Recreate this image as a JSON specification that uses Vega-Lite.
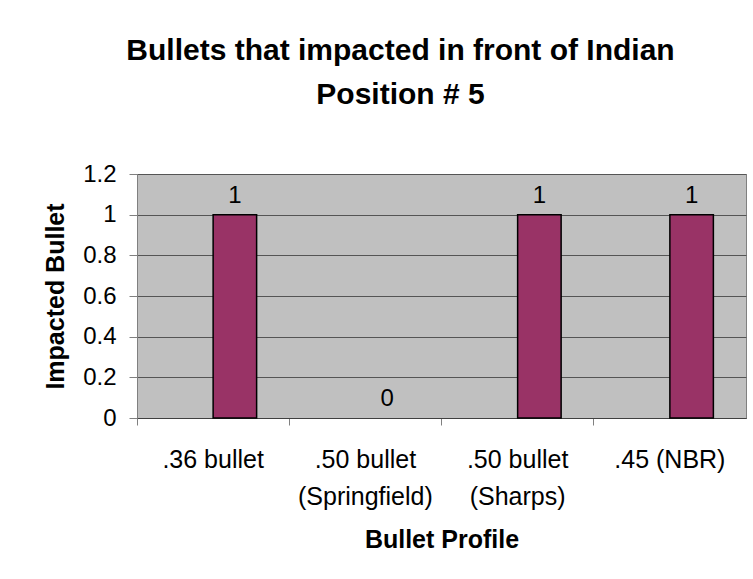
{
  "$schema": "https://vega.github.io/schema/vega-lite/v6.json",
  "autosize": {"type": "none"},
  "width": 609,
  "height": 244,
  "padding": {"left": 137, "top": 174, "right": 7, "bottom": 161},
  "background": "white",
  "title": {
    "text": ["Bullets that impacted in front of Indian", "Position # 5"],
    "font": "Liberation Sans",
    "fontSize": 30,
    "fontWeight": "bold",
    "color": "black",
    "lineHeight": 44,
    "anchor": "middle",
    "frame": "group",
    "dx": -41,
    "offset": 52
  },
  "data": {
    "values": [
      {"profile": ".36 bullet", "series": "Series 2", "impacted": 1},
      {"profile": ".50 bullet (Springfield)", "series": "Series 2", "impacted": 0},
      {"profile": ".50 bullet (Sharps)", "series": "Series 2", "impacted": 1},
      {"profile": ".45 (NBR)", "series": "Series 2", "impacted": 1}
    ]
  },
  "encoding": {
    "x": {
      "field": "profile",
      "type": "nominal",
      "scale": {
        "domain": [".36 bullet", ".50 bullet (Springfield)", ".50 bullet (Sharps)", ".45 (NBR)"],
        "paddingInner": 0,
        "paddingOuter": 0
      },
      "axis": {
        "title": "Bullet Profile",
        "bandPosition": 0,
        "labelAngle": 0,
        "labelFont": "Liberation Sans",
        "labelFontSize": 25,
        "labelColor": "black",
        "labelLineHeight": 37,
        "labelPadding": 22,
        "labelExpr": "indexof(datum.label, 'bullet (') >= 0 ? split(replace(datum.label, 'bullet (', 'bullet|('), '|') : datum.label",
        "ticks": true,
        "tickSize": 7,
        "tickColor": "#808080",
        "domainColor": "#404040",
        "titleFont": "Liberation Sans",
        "titleFontSize": 25,
        "titleFontWeight": "bold",
        "titleColor": "black",
        "titlePadding": 18
      }
    },
    "xOffset": {
      "field": "series",
      "type": "nominal",
      "scale": {"domain": ["Series 1", "Series 2"], "paddingInner": 0, "paddingOuter": 0.75}
    },
    "y": {
      "field": "impacted",
      "type": "quantitative",
      "scale": {"domain": [0, 1.2], "nice": false},
      "axis": {
        "title": "Impacted Bullet",
        "values": [0, 0.2, 0.4, 0.6, 0.8, 1, 1.2],
        "format": ".1~f",
        "labelFont": "Liberation Sans",
        "labelFontSize": 24,
        "labelColor": "black",
        "labelPadding": 13,
        "tickSize": 8,
        "tickColor": "#808080",
        "domainColor": "#808080",
        "grid": true,
        "gridColor": "#555555",
        "gridWidth": 1,
        "titleFont": "Liberation Sans",
        "titleFontSize": 25,
        "titleFontWeight": "bold",
        "titleColor": "black",
        "titlePadding": 14
      }
    }
  },
  "layer": [
    {
      "transform": [{"filter": "datum.impacted > 0"}],
      "mark": {"type": "bar", "color": "#993366", "stroke": "black", "strokeWidth": 1.5}
    },
    {
      "mark": {"type": "text", "baseline": "alphabetic", "dy": -12, "font": "Liberation Sans", "fontSize": 24, "color": "black"},
      "encoding": {"text": {"field": "impacted", "type": "quantitative"}}
    }
  ],
  "config": {
    "view": {"fill": "#C0C0C0", "stroke": "#808080", "strokeWidth": 1}
  }
}
